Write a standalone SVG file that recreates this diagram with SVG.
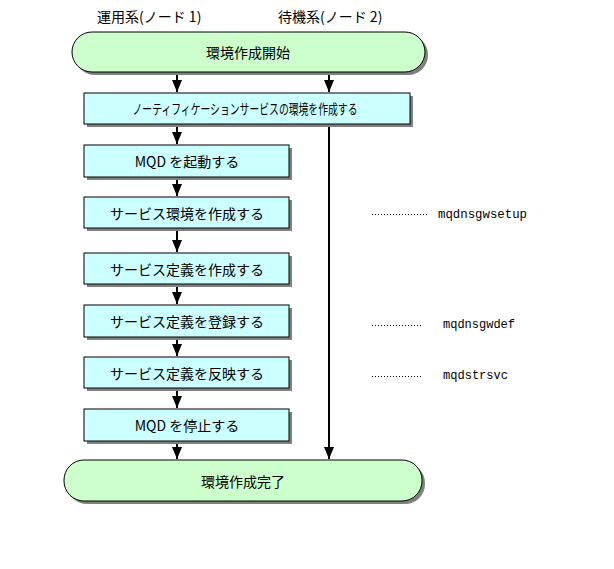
<svg xmlns="http://www.w3.org/2000/svg" width="614" height="569" viewBox="0 0 614 569">
<style>
text{font-family:"MS Gothic","Noto Sans CJK JP","DejaVu Sans",sans-serif;font-size:14px;fill:#000}
.t{text-anchor:middle;dominant-baseline:central}
.term{fill:#ccffcc;stroke:#000;stroke-width:1}
.box{fill:#ccffff;stroke:#000;stroke-width:1}
.sh{fill:#808080}
.ln{stroke:#000;stroke-width:2;fill:none}
.dot{stroke:#000;stroke-width:1;stroke-dasharray:1,2;fill:none}
.mono{font-family:"Liberation Mono","DejaVu Sans Mono",monospace;font-size:12px}
</style>
<defs>
<marker id="ah" markerWidth="12" markerHeight="10" refX="12" refY="5" orient="auto" markerUnits="userSpaceOnUse" viewBox="0 0 12 10">
<path d="M0,0 L12,5 L0,10 Z" fill="#000"/>
</marker>
</defs>
<rect width="614" height="569" fill="#fff"/>
<text x="97" y="22">運用系(ノード 1)</text>
<text x="278" y="22">待機系(ノード 2)</text>
<g id="connectors">
<line class="ln" x1="177" y1="75" x2="177" y2="92" marker-end="url(#ah)"/>
<line class="ln" x1="329" y1="75" x2="329" y2="92" marker-end="url(#ah)"/>
<line class="ln" x1="177" y1="127" x2="177" y2="144" marker-end="url(#ah)"/>
<line class="ln" x1="177" y1="180" x2="177" y2="196" marker-end="url(#ah)"/>
<line class="ln" x1="177" y1="231" x2="177" y2="252" marker-end="url(#ah)"/>
<line class="ln" x1="177" y1="287" x2="177" y2="304" marker-end="url(#ah)"/>
<line class="ln" x1="177" y1="340" x2="177" y2="356" marker-end="url(#ah)"/>
<line class="ln" x1="177" y1="391" x2="177" y2="408" marker-end="url(#ah)"/>
<line class="ln" x1="177" y1="444" x2="177" y2="459" marker-end="url(#ah)"/>
<line class="ln" x1="329" y1="127" x2="329" y2="459" marker-end="url(#ah)"/>
</g>
<g id="start">
<rect class="sh" x="75" y="35" width="353" height="40" rx="20"/>
<rect class="term" x="72" y="32" width="353" height="40" rx="20"/>
<text class="t" x="248" y="52">環境作成開始</text>
</g>
<g id="n1">
<rect class="sh" x="87" y="96" width="326" height="31"/>
<rect class="box" x="84" y="93" width="326" height="31"/>
<text class="t" x="245" y="108" textLength="225" lengthAdjust="spacingAndGlyphs">ノーティフィケーションサービスの環境を作成する</text>
</g>
<g id="n2">
<rect class="sh" x="87" y="148" width="205" height="32"/>
<rect class="box" x="84" y="145" width="205" height="32"/>
<text class="t" x="187" y="161">MQD を起動する</text>
</g>
<g id="n3">
<rect class="sh" x="87" y="200" width="205" height="31"/>
<rect class="box" x="84" y="197" width="205" height="31"/>
<text class="t" x="187" y="213">サービス環境を作成する</text>
</g>
<g id="n4">
<rect class="sh" x="87" y="256" width="205" height="31"/>
<rect class="box" x="84" y="253" width="205" height="31"/>
<text class="t" x="187" y="269">サービス定義を作成する</text>
</g>
<g id="n5">
<rect class="sh" x="87" y="308" width="205" height="32"/>
<rect class="box" x="84" y="305" width="205" height="32"/>
<text class="t" x="187" y="321">サービス定義を登録する</text>
</g>
<g id="n6">
<rect class="sh" x="87" y="360" width="205" height="31"/>
<rect class="box" x="84" y="357" width="205" height="31"/>
<text class="t" x="187" y="373">サービス定義を反映する</text>
</g>
<g id="n7">
<rect class="sh" x="87" y="412" width="205" height="32"/>
<rect class="box" x="84" y="409" width="205" height="32"/>
<text class="t" x="187" y="425">MQD を停止する</text>
</g>
<g id="end">
<rect class="sh" x="67" y="463" width="358" height="41" rx="20"/>
<rect class="term" x="64" y="460" width="358" height="41" rx="20"/>
<text class="t" x="243" y="481">環境作成完了</text>
</g>
<g id="notes">
<line class="dot" x1="372" y1="214.5" x2="427" y2="214.5"/>
<text class="mono" x="438" y="218" textLength="89" lengthAdjust="spacingAndGlyphs">mqdnsgwsetup</text>
<line class="dot" x1="372" y1="325.5" x2="423" y2="325.5"/>
<text class="mono" x="443" y="328" textLength="72" lengthAdjust="spacingAndGlyphs">mqdnsgwdef</text>
<line class="dot" x1="372" y1="376.5" x2="423" y2="376.5"/>
<text class="mono" x="443" y="379" textLength="65" lengthAdjust="spacingAndGlyphs">mqdstrsvc</text>
</g>
</svg>
